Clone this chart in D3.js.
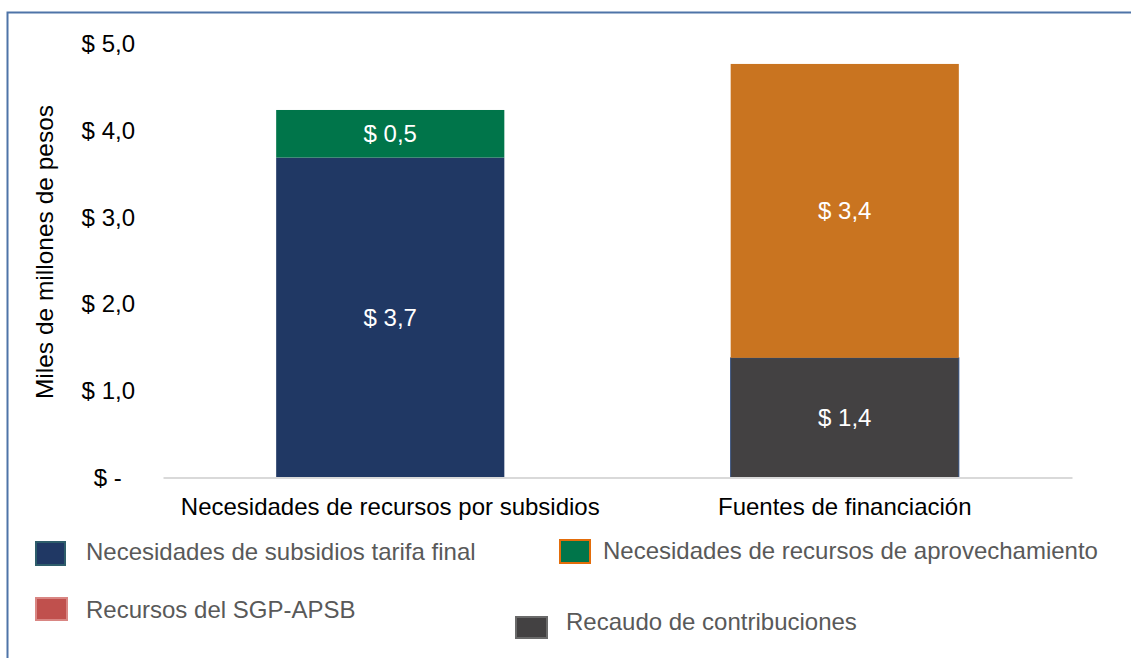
<!DOCTYPE html>
<html>
<head>
<meta charset="utf-8">
<script src="https://cdn.jsdelivr.net/npm/d3@7"></script>
<style>
  html, body { margin: 0; padding: 0; background: #fff; }
  svg { display: block; font-family: "Liberation Sans", Arial, sans-serif; }
</style>
</head>
<body>
<svg id="chart" width="1131" height="658"></svg>
<script>
// Categories on the x axis
const categories = ["Necesidades de recursos por subsidios", "Fuentes de financiación"];

// Stacked series (miles de millones de pesos), bottom to top
const seriesNames = [
  "Necesidades de subsidios tarifa final",
  "Necesidades de recursos de aprovechamiento",
  "Recursos del SGP-APSB",
  "Recaudo de contribuciones",
  "Otras fuentes"
];
const subsidiosTarifa   = [3.69, 0];
const aprovechamiento   = [0.549, 0];
const sgpApsb           = [0, 0];
const recaudo           = [0, 1.38];
const otrasFuentes      = [0, 3.39];

// Y axis ticks
const yTicks = [0, 1, 2, 3, 4, 5];

const colors = {
  "Necesidades de subsidios tarifa final": "#203864",
  "Necesidades de recursos de aprovechamiento": "#00754a",
  "Recursos del SGP-APSB": "#c0504d",
  "Recaudo de contribuciones": "#434142",
  "Otras fuentes": "#c97420"
};
const edgeColors = {
  "Recaudo de contribuciones": "#2f4a7a"
};

// Stack order: base layers first
const stackKeys = [
  "Necesidades de subsidios tarifa final",
  "Recaudo de contribuciones",
  "Necesidades de recursos de aprovechamiento",
  "Recursos del SGP-APSB",
  "Otras fuentes"
];
const valuesByKey = {
  "Necesidades de subsidios tarifa final": subsidiosTarifa,
  "Necesidades de recursos de aprovechamiento": aprovechamiento,
  "Recursos del SGP-APSB": sgpApsb,
  "Recaudo de contribuciones": recaudo,
  "Otras fuentes": otrasFuentes
};
const table = categories.map((c, i) => {
  const row = { cat: c };
  stackKeys.forEach(k => row[k] = valuesByKey[k][i]);
  return row;
});

const FONT = 24;
const svg = d3.select("#chart");

// Outer frame
svg.append("path")
  .attr("d", "M7.5,670 V12.5 H1140")
  .attr("fill", "none")
  .attr("stroke", "#4f74a8")
  .attr("stroke-width", 2);

const x = d3.scaleBand()
  .domain(categories)
  .range([163, 1072])
  .paddingInner(0.498)
  .paddingOuter(0.249);

const y = d3.scaleLinear().domain([0, 5]).range([477.5, 44]);

const fmt = v => v === 0 ? "$ -\u00a0\u00a0" : "$ " + d3.format(".1f")(v).replace(".", ",");

// Y axis (labels only)
const yAxis = d3.axisLeft(y).tickValues(yTicks).tickFormat(fmt).tickSize(0).tickPadding(0);
const gy = svg.append("g").attr("transform", "translate(135,0)").call(yAxis);
gy.select(".domain").remove();
gy.selectAll("text")
  .attr("font-family", "Liberation Sans, Arial, sans-serif")
  .attr("font-size", FONT)
  .attr("fill", "#000");

// Y axis title
svg.append("text")
  .attr("transform", "translate(44,252) rotate(-90)")
  .attr("text-anchor", "middle")
  .attr("dominant-baseline", "central")
  .attr("font-size", 24.5)
  .attr("fill", "#000")
  .text("Miles de millones de pesos");

// Stacked bars
const stacked = d3.stack().keys(stackKeys)(table);
const layers = svg.append("g").selectAll("g")
  .data(stacked).join("g")
  .attr("fill", d => colors[d.key]);

layers.selectAll("rect")
  .data(d => d.filter(s => s[1] - s[0] > 0).map(s => Object.assign(s, { key: d.key })))
  .join("rect")
  .attr("x", d => x(d.data.cat))
  .attr("width", x.bandwidth())
  .attr("y", d => y(d[1]))
  .attr("height", d => y(d[0]) - y(d[1]))
  .attr("stroke", d => edgeColors[d.key] || "none")
  .attr("stroke-width", 1);

// Value labels inside segments
layers.selectAll("text")
  .data(d => d.filter(s => s[1] - s[0] > 0))
  .join("text")
  .attr("x", d => x(d.data.cat) + x.bandwidth() / 2)
  .attr("y", d => (y(d[0]) + y(d[1])) / 2)
  .attr("text-anchor", "middle")
  .attr("dominant-baseline", "central")
  .attr("font-size", FONT)
  .attr("fill", "#fff")
  .text(d => fmt(d[1] - d[0]));

// Baseline (x axis)
const xAxis = d3.axisBottom(x).tickSize(0).tickPadding(20);
const gx = svg.append("g").attr("transform", `translate(0,${y(0)})`).call(xAxis);
gx.select(".domain").attr("stroke", "#d9d9d9").attr("stroke-width", 2);
gx.selectAll("text")
  .attr("font-family", "Liberation Sans, Arial, sans-serif")
  .attr("font-size", FONT)
  .attr("fill", "#000");

// Legend
const legendItems = [
  { name: seriesNames[0], sx: 35, sy: 541, sw: 31, sh: 25, tx: 86, ty: 551, fill: "#203864", stroke: "#2e5d6b" },
  { name: seriesNames[1], sx: 559, sy: 539, sw: 32, sh: 25, tx: 603, ty: 550, fill: "#00754a", stroke: "#e36c0a" },
  { name: seriesNames[2], sx: 35, sy: 597, sw: 33, sh: 24, tx: 86, ty: 609, fill: "#c0504d", stroke: "#d98683" },
  { name: seriesNames[3], sx: 515, sy: 616, sw: 33, sh: 23, tx: 566, ty: 621, fill: "#434142", stroke: "#6a6a6a" }
];
const lg = svg.append("g").selectAll("g").data(legendItems).join("g");
lg.append("rect")
  .attr("x", d => d.sx + 1)
  .attr("y", d => d.sy + 1)
  .attr("width", d => d.sw - 2)
  .attr("height", d => d.sh - 2)
  .attr("fill", d => d.fill)
  .attr("stroke", d => d.stroke)
  .attr("stroke-width", 2);
lg.append("text")
  .attr("x", d => d.tx)
  .attr("y", d => d.ty)
  .attr("dominant-baseline", "central")
  .attr("font-size", FONT)
  .attr("fill", "#595959")
  .text(d => d.name);
</script>
</body>
</html>
